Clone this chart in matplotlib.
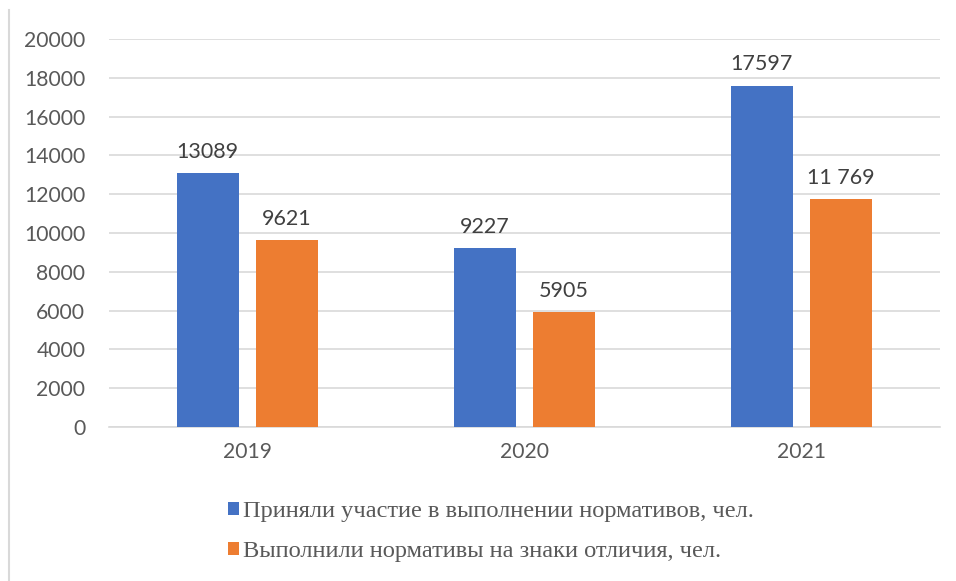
import matplotlib
matplotlib.use("Agg")
import matplotlib.pyplot as plt
from matplotlib.lines import Line2D
from matplotlib.patches import Patch
import numpy as np

years = ["2019", "2020", "2021"]
participated = [13089, 9227, 17597]
passed = [9621, 5905, 11769]
participated_labels = ["13089", "9227", "17597"]
passed_labels = ["9621", "5905", "11 769"]
series_names = ["Приняли участие в выполнении нормативов, чел.",
                "Выполнили нормативы на знаки отличия, чел."]
yticks = list(range(0, 20001, 2000))

blue = "#4472C4"
orange = "#ED7D31"

fig = plt.figure(figsize=(9.56, 5.81), dpi=100)
ax = fig.add_axes([0.114, 0.265, 0.869, 0.668])

x = np.arange(len(years))
w = 0.224
off = 0.143
b1 = ax.bar(x - off, participated, w, color=blue, zorder=3)
b2 = ax.bar(x + off, passed, w, color=orange, zorder=3)

fs = 15.2
tick_font = dict(family="Lato", size=fs, color="#595959")
for rect, lab in zip(b1, participated_labels):
    ax.annotate(lab, (rect.get_x() + rect.get_width() / 2, rect.get_height()),
                xytext=(0, 8), textcoords="offset points", ha="center", va="bottom",
                family="Lato", size=15.5, color="#404040")
for rect, lab in zip(b2, passed_labels):
    ax.annotate(lab, (rect.get_x() + rect.get_width() / 2, rect.get_height()),
                xytext=(0, 8), textcoords="offset points", ha="center", va="bottom",
                family="Lato", size=15.5, color="#404040")

ax.set_xlim(-0.5, len(years) - 0.5)
ax.set_ylim(0, 20000)
ax.set_yticks(yticks)
ax.set_yticklabels([str(t) for t in yticks], **tick_font)
ax.set_xticks(x)
ax.set_xticklabels(years, **tick_font)
ax.tick_params(axis="both", length=0)
ax.tick_params(axis="y", pad=17)
ax.tick_params(axis="x", pad=11)
ax.yaxis.grid(True, color="#D9D9D9", linewidth=1.2, zorder=0)
for s in ["top", "right", "left"]:
    ax.spines[s].set_visible(False)
ax.spines["bottom"].set_color("#D9D9D9")
ax.spines["bottom"].set_linewidth(1.2)

handles = [Patch(facecolor=blue), Patch(facecolor=orange)]
leg = fig.legend(handles, series_names, loc="upper left", bbox_to_anchor=(0.238, 0.137),
                 frameon=False, prop=dict(family="Liberation Serif", size=17.6),
                 handlelength=0.45, handleheight=0.45, handletextpad=0.2,
                 labelspacing=0.78, borderaxespad=0, borderpad=0)
for t in leg.get_texts():
    t.set_color("#595959")

fig.add_artist(Line2D([9 / 956, 9 / 956], [0, 1 - 10 / 581], color="#D9D9D9", linewidth=1.5))

fig.savefig("out.png", dpi=100)
